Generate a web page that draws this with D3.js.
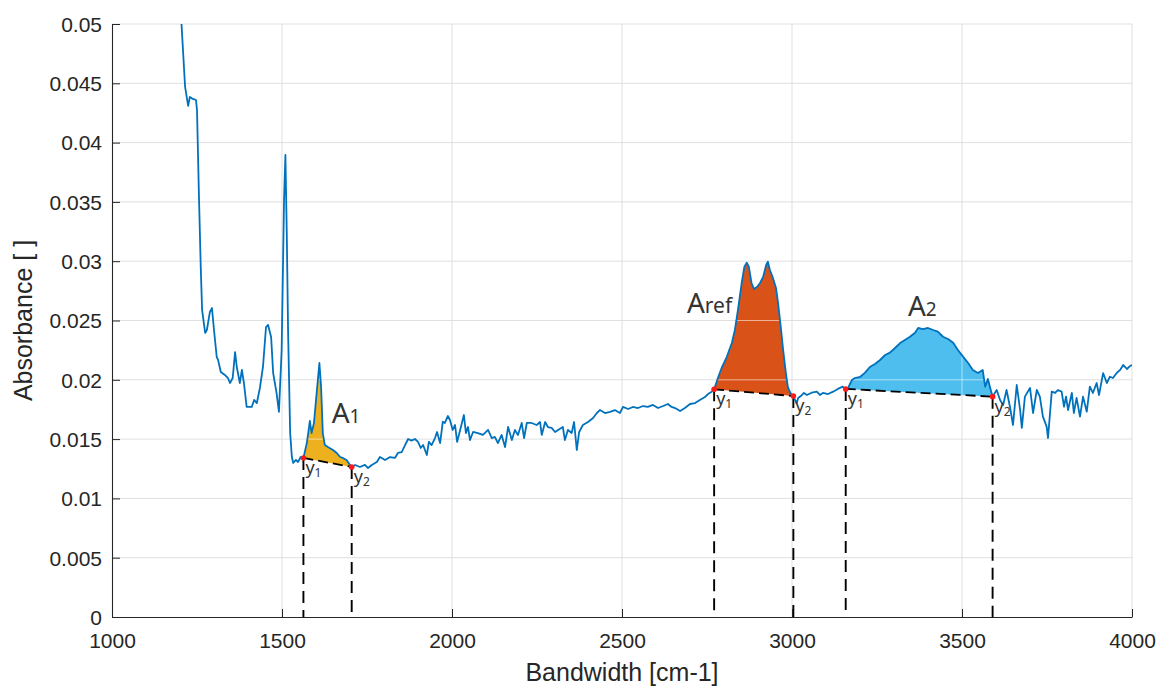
<!DOCTYPE html>
<html>
<head>
<meta charset="utf-8">
<script src="https://cdn.jsdelivr.net/npm/d3@7/dist/d3.min.js"></script>
<style>
  html, body { margin: 0; padding: 0; background: #ffffff; }
  svg { display: block; }
</style>
</head>
<body>
<svg id="chart" width="1159" height="688"></svg>
<script>
// ---------------- DATA ----------------
const wavenumber = [
  1204,1215,1224,1229,1238,1247,1250,1256,1261,1265,1274,1279,1288,1294,1300,1308,1312,1320,1332,1341,
  1347,1355,1362,1367,1376,1382,1388,1396,1411,1418,1426,1435,1444,1453,1459,1468,1474,1484,1491,1499,
  1506,1510,1514,1518,1524,1529,1533,1541,1547,1555,1563,1573,1582,1587,1594,1600,1610,1615,1620,1626,
  1635,1650,1661,1671,1679,1690,1700,1705,1715,1729,1744,1753,1764,1779,1788,1803,1818,1832,1841,1852,
  1862,1871,1881,1891,1900,1908,1915,1926,1932,1940,1950,1956,1965,1973,1979,1988,1994,2002,2009,2015,
  2024,2035,2041,2047,2053,2062,2076,2091,2106,2117,2126,2135,2146,2156,2165,2176,2185,2194,2205,2212,
  2220,2234,2249,2259,2264,2274,2282,2293,2303,2312,2326,2332,2341,2352,2359,2367,2374,2385,2400,2415,
  2426,2435,2450,2465,2479,2494,2503,2518,2532,2547,2562,2576,2591,2606,2621,2635,2646,2656,2671,2685,
  2700,2715,2729,2744,2753,2764,2771,2782,2793,2808,2823,2832,2841,2852,2860,2867,2873,2881,2888,2897,
  2906,2915,2924,2929,2935,2943,2953,2959,2967,2974,2982,2988,2994,2999,3004,3009,3014,3018,3026,3035,
  3044,3058,3073,3082,3091,3106,3121,3135,3149,3158,3165,3176,3185,3200,3215,3229,3244,3259,3274,3288,
  3303,3318,3332,3347,3362,3371,3385,3400,3415,3429,3444,3459,3474,3488,3503,3518,3532,3547,3561,3568,
  3576,3590,3602,3612,3621,3631,3641,3650,3661,3671,3676,3685,3700,3709,3720,3729,3738,3749,3753,3764,
  3774,3782,3793,3800,3806,3812,3823,3829,3837,3847,3856,3867,3876,3885,3896,3903,3915,3926,3935,3944,
  3955,3965,3974,3985,3994,4000
];
const absorbance = [
  0.0502,0.04469,0.04309,0.04385,0.04368,0.04359,0.04275,0.03516,0.02951,0.02589,0.02395,0.02420,0.02572,0.02605,0.02420,0.02192,0.02167,0.02066,0.02041,0.02015,
  0.01973,0.02015,0.02234,0.02108,0.01973,0.02083,0.01973,0.01771,0.01771,0.01830,0.01804,0.01931,0.02108,0.02445,0.02462,0.02361,0.02057,0.01889,0.01729,0.02251,
  0.03516,0.03896,0.03238,0.02395,0.01551,0.01349,0.01299,0.01324,0.01307,0.01349,0.01341,0.01467,0.01653,0.01551,0.01636,0.01830,0.02142,0.01939,0.01551,0.01450,
  0.01433,0.01408,0.01383,0.01349,0.01341,0.01324,0.01282,0.01265,0.01282,0.01265,0.01282,0.01256,0.01282,0.01307,0.01349,0.01324,0.01349,0.01341,0.01383,0.01391,
  0.01450,0.01501,0.01487,0.01501,0.01476,0.01425,0.01450,0.01366,0.01476,0.01450,0.01509,0.01560,0.01467,0.01647,0.01636,0.01695,0.01661,0.01577,0.01619,0.01476,
  0.01577,0.01703,0.01551,0.01602,0.01492,0.01560,0.01551,0.01535,0.01577,0.01509,0.01518,0.01467,0.01535,0.01433,0.01602,0.01492,0.01577,0.01535,0.01636,0.01509,
  0.01636,0.01636,0.01619,0.01644,0.01535,0.01644,0.01602,0.01594,0.01560,0.01577,0.01602,0.01492,0.01577,0.01551,0.01644,0.01408,0.01560,0.01619,0.01644,0.01678,
  0.01720,0.01745,0.01720,0.01729,0.01745,0.01720,0.01771,0.01754,0.01771,0.01762,0.01779,0.01771,0.01788,0.01762,0.01779,0.01796,0.01771,0.01762,0.01737,0.01762,
  0.01796,0.01804,0.01830,0.01855,0.01880,0.01900,0.01920,0.02015,0.02100,0.02192,0.02310,0.02420,0.02589,0.02816,0.02954,0.02987,0.02954,0.02816,0.02766,0.02783,
  0.02816,0.02867,0.02968,0.02996,0.02926,0.02867,0.02774,0.02648,0.02445,0.02251,0.02057,0.01939,0.01897,0.01872,0.01863,0.01830,0.01804,0.01847,0.01863,0.01889,
  0.01872,0.01891,0.01900,0.01872,0.01889,0.01880,0.01900,0.01923,0.01942,0.01923,0.01931,0.01998,0.02015,0.02024,0.02060,0.02108,0.02133,0.02167,0.02209,0.02229,
  0.02268,0.02310,0.02336,0.02363,0.02397,0.02437,0.02428,0.02437,0.02420,0.02406,0.02363,0.02344,0.02313,0.02251,0.02195,0.02142,0.02083,0.02057,0.02083,0.01942,
  0.02007,0.01858,0.01914,0.01830,0.01788,0.01914,0.01773,0.01619,0.01956,0.01745,0.01594,0.01858,0.01931,0.01720,0.01914,0.01858,0.01689,0.01605,0.01509,0.01900,
  0.01889,0.01914,0.01900,0.01773,0.01858,0.01745,0.01889,0.01720,0.01847,0.01689,0.01858,0.01731,0.01942,0.01889,0.01973,0.01872,0.02057,0.01973,0.02026,0.02015,
  0.02057,0.02083,0.02125,0.02091,0.02116,0.02125
];

// Integration regions (peak areas)
const regionMain = ["A", "A", "A"];
const regionSub = ["1", "ref", "2"];
const regionStart = [1563, 2771, 3158];
const regionEnd = [1705, 3004, 3590];
const baselineY1 = [0.01341, 0.01920, 0.01923];
const baselineY2 = [0.01265, 0.01863, 0.01858];
const labelX = [1646, 2691, 3341];
const labelY = [0.01636, 0.02563, 0.02538];

// Axis ticks
const xTicks = [1000, 1500, 2000, 2500, 3000, 3500, 4000];
const yTicks = [0, 0.005, 0.01, 0.015, 0.02, 0.025, 0.03, 0.035, 0.04, 0.045, 0.05];
const xTickLabels = ["1000", "1500", "2000", "2500", "3000", "3500", "4000"];
const yTickLabels = ["0", "0.005", "0.01", "0.015", "0.02", "0.025", "0.03", "0.035", "0.04", "0.045", "0.05"];

// ---------------- STYLE ----------------
const fillColors = ["#EDB120", "#D95319", "#4DBEEE"];
const lineColor = "#0072BD";
const axisColor = "#262626";
const gridColor = "#dfdfdf";
const tickFont = "'Liberation Sans', Arial, Helvetica, sans-serif";
const annFont = "'Noto Sans', 'Open Sans', sans-serif";

// ---------------- CHART ----------------
const svg = d3.select("#chart");
const x = d3.scaleLinear().domain([1000, 4000]).range([112, 1132]);
const y = d3.scaleLinear().domain([0, 0.05]).range([617, 24]);

const defs = svg.append("defs");
defs.append("clipPath").attr("id", "plotClip")
  .append("rect").attr("x", x(1000)).attr("y", y(0.05))
  .attr("width", x(4000) - x(1000)).attr("height", y(0) - y(0.05));

const data = wavenumber.map((w, i) => ({ w, a: absorbance[i] }));

// grid
function drawGrid(g, color) {
  g.selectAll("line.gx").data(xTicks.slice(1)).enter().append("line")
    .attr("x1", d => x(d)).attr("x2", d => x(d))
    .attr("y1", y(0)).attr("y2", y(0.05))
    .attr("stroke", color).attr("stroke-width", 1);
  g.selectAll("line.gy").data(yTicks.slice(1)).enter().append("line")
    .attr("x1", x(1000)).attr("x2", x(4000))
    .attr("y1", d => y(d)).attr("y2", d => y(d))
    .attr("stroke", color).attr("stroke-width", 1);
}
drawGrid(svg.append("g"), gridColor);

// region polygons
const lineGen = d3.line().x(d => x(d.w)).y(d => y(d.a));
const regionPaths = regionStart.map((s, i) => {
  const pts = data.filter(d => d.w >= s && d.w <= regionEnd[i]);
  const poly = pts.concat([{ w: regionEnd[i], a: baselineY2[i] }, { w: s, a: baselineY1[i] }]);
  return lineGen(poly) + "Z";
});

const fillG = svg.append("g").attr("clip-path", "url(#plotClip)");
regionPaths.forEach((p, i) => {
  fillG.append("path").attr("d", p).attr("fill", fillColors[i]).attr("stroke", "none");
  defs.append("clipPath").attr("id", "regClip" + i).append("path").attr("d", p);
  drawGrid(svg.append("g").attr("clip-path", "url(#regClip" + i + ")"), "rgba(255,255,255,0.55)");
});

// vertical dashed lines to axis
const dashG = svg.append("g");
regionStart.forEach((s, i) => {
  [[s, baselineY1[i]], [regionEnd[i], baselineY2[i]]].forEach(([w, a]) => {
    dashG.append("line")
      .attr("x1", x(w)).attr("x2", x(w))
      .attr("y1", y(a)).attr("y2", y(0))
      .attr("stroke", "#000").attr("stroke-width", 1.9)
      .attr("stroke-dasharray", "12,7");
  });
});

// spectrum line
svg.append("g").attr("clip-path", "url(#plotClip)")
  .append("path").datum(data)
  .attr("d", lineGen)
  .attr("fill", "none").attr("stroke", lineColor)
  .attr("stroke-width", 1.8).attr("stroke-linejoin", "round");

// baselines + dots
regionStart.forEach((s, i) => {
  svg.append("line")
    .attr("x1", x(s)).attr("y1", y(baselineY1[i]))
    .attr("x2", x(regionEnd[i])).attr("y2", y(baselineY2[i]))
    .attr("stroke", "#000").attr("stroke-width", 1.8)
    .attr("stroke-dasharray", "10,5");
  [[s, baselineY1[i]], [regionEnd[i], baselineY2[i]]].forEach(([w, a]) => {
    svg.append("circle").attr("cx", x(w)).attr("cy", y(a)).attr("r", 2.8)
      .attr("fill", "#ff1a1a");
  });
});

// axes
const xAxis = d3.axisBottom(x).tickValues(xTicks).tickFormat((d, i) => xTickLabels[i])
  .tickSizeInner(-8).tickSizeOuter(0).tickPadding(16);
const yAxis = d3.axisLeft(y).tickValues(yTicks).tickFormat((d, i) => yTickLabels[i])
  .tickSizeInner(-8).tickSizeOuter(0).tickPadding(10);

const gx = svg.append("g").attr("transform", `translate(0,${y(0)})`).call(xAxis);
const gy = svg.append("g").attr("transform", `translate(${x(1000)},0)`).call(yAxis);
[gx, gy].forEach(g => {
  g.select(".domain").attr("stroke", axisColor).attr("stroke-width", 1.1);
  g.selectAll(".tick line").attr("stroke", axisColor).attr("stroke-width", 1);
  g.selectAll(".tick text").attr("fill", axisColor)
    .style("font-family", tickFont).style("font-size", "21px");
});
gx.selectAll(".tick text").attr("dy", "0.71em");
gy.selectAll(".tick text").attr("dy", "0.35em");

// axis titles
svg.append("text")
  .attr("x", (x(1000) + x(4000)) / 2).attr("y", 681)
  .attr("text-anchor", "middle").attr("fill", axisColor)
  .style("font-family", tickFont).style("font-size", "25px")
  .text("Bandwidth [cm-1]");
svg.append("text")
  .attr("transform", `translate(32,${(y(0) + y(0.05)) / 2}) rotate(-90)`)
  .attr("text-anchor", "middle").attr("fill", axisColor)
  .style("font-family", tickFont).style("font-size", "25px")
  .text("Absorbance [ ]");

// region labels
regionMain.forEach((m, i) => {
  const t = svg.append("text")
    .attr("x", x(labelX[i])).attr("y", y(labelY[i]))
    .attr("fill", "#333333").style("font-family", annFont);
  t.append("tspan").style("font-size", "28px").text(m);
  t.append("tspan").style("font-size", i === 1 ? "21px" : "19px").text(regionSub[i]);
});

// y1 / y2 point labels
regionStart.forEach((s, i) => {
  [[s, baselineY1[i], "1"], [regionEnd[i], baselineY2[i], "2"]].forEach(([w, a, sub]) => {
    const t = svg.append("text")
      .attr("x", x(w) + 2).attr("y", y(a) + 16)
      .attr("fill", "#333333").style("font-family", annFont);
    t.append("tspan").style("font-size", "18px").text("y");
    t.append("tspan").attr("dy", 3).style("font-size", "12px").text(sub);
  });
});
</script>
</body>
</html>
